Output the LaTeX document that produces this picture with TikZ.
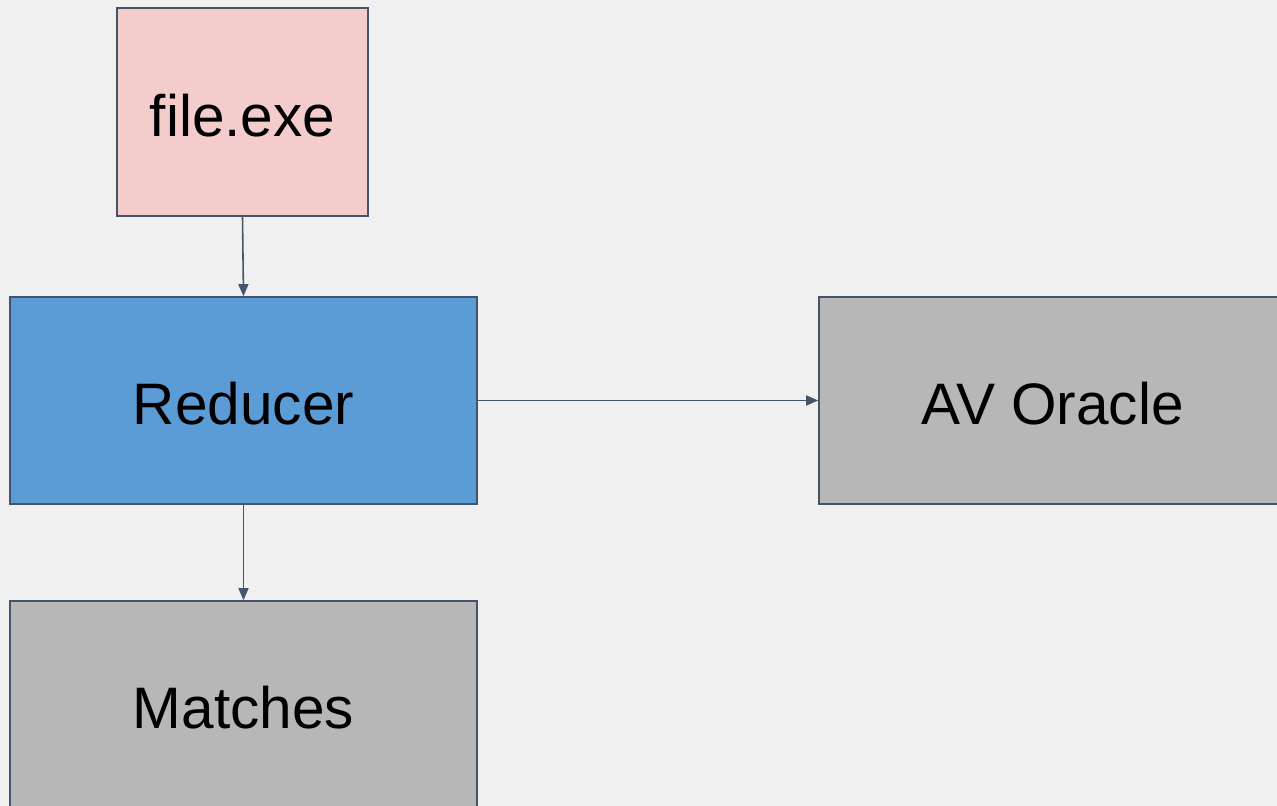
\documentclass[tikz,border=0pt]{standalone}
\usepackage{fontspec}
\setmainfont{Liberation Sans}
\usepackage{tikz}
\usetikzlibrary{arrows.meta,positioning}
\definecolor{bgcol}{HTML}{F0F0F0}
\definecolor{edgecol}{HTML}{44546A}
\definecolor{pinkfill}{HTML}{F4CCCC}
\definecolor{bluefill}{HTML}{5B9BD6}
\definecolor{grayfill}{HTML}{B7B7B7}
\tikzset{
  procbox/.style={draw=edgecol, line width=0.9pt, inner sep=0pt,
                  text height=0.97cm, text depth=0pt,
                  align=center, font=\fontsize{33.3}{40}\selectfont},
  linkarr/.style={-{Triangle[length=2.4mm,width=2mm]}, draw=edgecol, line width=0.9pt},
}

\begin{document}
\begin{tikzpicture}[x=1cm,y=1cm]
\useasboundingbox (0,0) rectangle (25.54,16.12);
\fill[bgcol] (0,0) rectangle (25.54,16.12);
\clip (0,0) rectangle (25.54,16.12);
\node[procbox, fill=pinkfill, minimum width=5.02cm, minimum height=4.16cm] (input) at (4.85,13.88)
  {file.exe};
\node[procbox, fill=bluefill, minimum width=9.34cm, minimum height=4.14cm] (reducer) at (4.87,8.11)
  {Reducer};
\node[procbox, fill=grayfill, minimum width=9.34cm, minimum height=4.14cm] (oracle) at (21.05,8.11)
  {AV Oracle};
\node[procbox, fill=grayfill, minimum width=9.34cm, minimum height=4.14cm] (matches) at (4.87,2.03)
  {Matches};
\draw[linkarr] (input.south) -- (reducer.north);
\draw[linkarr] (reducer.east) -- (oracle.west);
\draw[linkarr] (reducer.south) -- (matches.north);
\end{tikzpicture}
\end{document}
